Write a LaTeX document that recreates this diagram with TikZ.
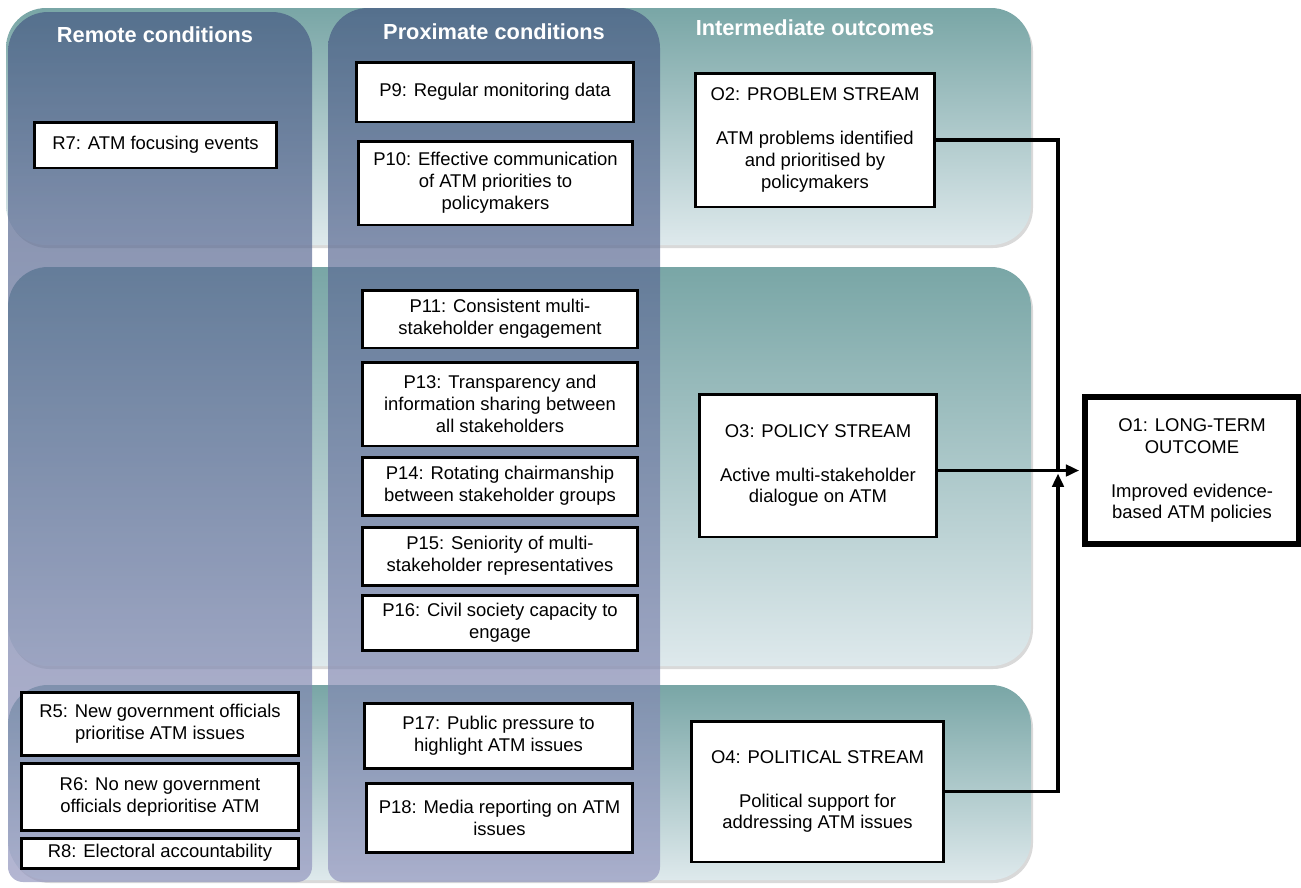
\documentclass[tikz,border=0pt]{standalone}
\usepackage{fontspec}
\setmainfont{Liberation Sans}
\usetikzlibrary{arrows.meta, shadows}

\definecolor{rowtop}{RGB}{121,166,166}
\definecolor{rowbot}{RGB}{222,233,236}
\definecolor{coltop}{RGB}{70,90,131}
\definecolor{colbot}{RGB}{148,151,191}

\begin{document}
\begin{tikzpicture}[x=0.02cm, y=-0.02cm,
    stream/.style={top color=rowtop, bottom color=rowbot, rounded corners=0.8cm,
        drop shadow={shadow xshift=0.04cm, shadow yshift=-0.06cm, opacity=0.3}},
    band/.style={top color=coltop, bottom color=colbot, fill opacity=0.7},
    head/.style={text=white, font=\fontsize{12.4}{14}\selectfont\bfseries},
    box/.style={draw, fill=white, line width=1.7pt, align=center, inner sep=0pt,
        font=\fontsize{10.5}{12.5}\selectfont},
    link/.style={line width=1.8pt},
    arrow/.style={link, -{Triangle[length=7.5pt, width=6.5pt]}}]
            \useasboundingbox (0,0) rectangle (1301,887);

            % streams
            \shade[stream] (6,8) rectangle (1031,245);
            \shade[stream] (8,267) rectangle (1031,666);
            \shade[stream] (8,685) rectangle (1031,880);

            % condition columns
            \shade[band] (8,882) [rounded corners=0.8cm] -- (8,12) -- (312,12) [rounded corners=0.3cm] -- (312,882) -- cycle;
            \shade[band] (328,882) [rounded corners=0.8cm] -- (328,8) -- (660,8) [rounded corners=0.3cm] -- (660,882) -- cycle;

            \node[head] (remote) at (155,35) {Remote conditions};
            \node[head] (proximate) at (494,32) {Proximate conditions};
            \node[head] (intermediate) at (815,28) {Intermediate outcomes};

            \node[box, minimum width=4.86cm, minimum height=0.92cm] (R7) at (155.5,145) {R7: ATM focusing events};
            \node[box, minimum width=5.56cm, minimum height=1.26cm] (R5) at (160,723.5) {R5: New government officials\\prioritise ATM issues};
            \node[box, minimum width=5.56cm, minimum height=1.34cm] (R6) at (160,796.5) {R6: No new government\\officials deprioritise ATM};
            \node[box, minimum width=5.56cm, minimum height=0.6cm] (R8) at (160,853) {R8: Electoral accountability};

            \node[box, minimum width=5.56cm, minimum height=1.2cm] (P9) at (495,92) {P9: Regular monitoring data};
            \node[box, minimum width=5.5cm, minimum height=1.68cm] (P10) at (495.5,183) {P10: Effective communication\\of ATM priorities to\\policymakers};
            \node[box, minimum width=5.52cm, minimum height=1.16cm] (P11) at (500,319) {P11: Consistent multi-\\stakeholder engagement};
            \node[box, minimum width=5.52cm, minimum height=1.68cm] (P13) at (500,404) {P13: Transparency and\\information sharing between\\all stakeholders};
            \node[box, minimum width=5.52cm, minimum height=1.16cm] (P14) at (500,486) {P14: Rotating chairmanship\\between stakeholder groups};
            \node[box, minimum width=5.52cm, minimum height=1.16cm] (P15) at (500,556) {P15: Seniority of multi-\\stakeholder representatives};
            \node[box, minimum width=5.52cm, minimum height=1.1cm] (P16) at (500,622.5) {P16: Civil society capacity to\\engage};
            \node[box, minimum width=5.38cm, minimum height=1.3cm] (P17) at (498.5,735.5) {P17: Public pressure to\\highlight ATM issues};
            \node[box, minimum width=5.34cm, minimum height=1.38cm] (P18) at (499.5,817.5) {P18: Media reporting on ATM\\issues};

            \node[box, minimum width=4.8cm, minimum height=2.68cm] (O2) at (815,140) {O2: PROBLEM STREAM\\[12.5pt]ATM problems identified\\and prioritised by\\policymakers};
            \node[box, minimum width=4.76cm, minimum height=2.86cm] (O3) at (818,465.5) {O3: POLICY STREAM\\[12.5pt]Active multi-stakeholder\\dialogue on ATM};
            \node[box, minimum width=5.06cm, minimum height=2.82cm] (O4) at (817.5,791.5) {O4: POLITICAL STREAM\\[12.5pt]Political support for\\addressing ATM issues};
            \node[box, line width=3.3pt, minimum width=4.28cm, minimum height=2.94cm] (O1) at (1192,470.5) {O1: LONG-TERM\\OUTCOME\\[12.5pt]Improved evidence-\\based ATM policies};

            % links
            \coordinate (join) at (1058,472);
            \draw[link] (O2.east) -| (join);
            \draw[arrow, shorten >=1.7pt] (O3.east |- O1.west) -- (O1.west);
            \draw[arrow, shorten >=0.9pt] (O4.east) -| (join);
\end{tikzpicture}
\end{document}
